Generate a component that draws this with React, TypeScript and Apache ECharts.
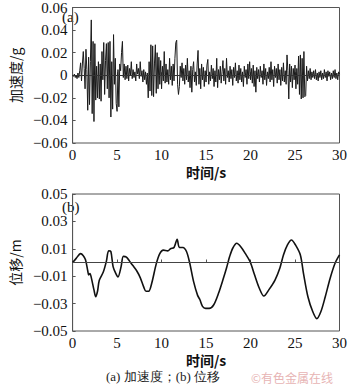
import React, { useEffect, useRef } from "react";
import * as echarts from "echarts";

// Acceleration record (g), sampled every 0.1 s from 0 to 30 s
const ACC_DT = 0.1;
const accValues: number[] = [
  0.000, -0.001, 0.001, -0.002, 0.000, -0.003, 0.002, -0.002, 0.004, 0.011,
  -0.005, 0.010, 0.021, 0.006, -0.012, 0.023, 0.005, -0.031, 0.016, -0.026,
  0.012, 0.049, -0.034, 0.030, -0.041, 0.028, -0.022, 0.008, -0.020, 0.012,
  -0.021, 0.010, -0.023, 0.021, -0.004, 0.029, -0.017, 0.013, 0.028, -0.012,
  0.029, -0.020, 0.030, -0.037, 0.012, -0.030, 0.036, -0.008, 0.015, -0.025,
  -0.032, 0.005, -0.028, 0.010, 0.004, 0.020, 0.030, -0.002, 0.010, -0.004,
  0.008, -0.003, 0.009, -0.005, 0.006, 0.000, 0.012, -0.003, 0.005, -0.002,
  0.003, -0.005, 0.010, 0.001, 0.006, -0.003, 0.012, -0.001, 0.004, -0.006,
  0.005, -0.004, 0.003, -0.008, 0.002, -0.020, 0.012, -0.014, 0.027, -0.018,
  0.026, -0.019, 0.010, 0.027, -0.016, 0.020, -0.012, 0.016, -0.008, 0.013,
  -0.012, 0.008, -0.005, 0.021, -0.007, 0.010, -0.006, 0.005, -0.008, 0.015,
  -0.004, 0.008, -0.009, 0.010, -0.005, 0.015, 0.029, 0.031, -0.008, -0.017,
  -0.010, 0.008, -0.002, 0.011, -0.005, 0.006, -0.008, 0.009, -0.004, 0.015,
  -0.006, 0.004, -0.011, 0.008, -0.015, 0.005, 0.012, -0.006, 0.003, -0.009,
  0.010, 0.022, -0.008, 0.006, -0.012, 0.010, -0.004, 0.007, -0.010, 0.004,
  -0.006, 0.009, 0.014, -0.008, 0.003, -0.005, 0.009, -0.003, 0.006, -0.010,
  0.004, -0.006, 0.015, -0.011, 0.005, -0.004, 0.008, -0.007, 0.003, 0.013,
  -0.005, 0.006, -0.008, 0.015, -0.002, 0.004, -0.006, 0.008, -0.003, 0.005,
  -0.009, 0.007, -0.002, 0.011, -0.005, 0.004, -0.007, 0.009, -0.004, 0.006,
  -0.006, 0.003, -0.010, 0.008, -0.002, 0.005, -0.008, 0.010, -0.003, 0.012,
  -0.004, 0.006, -0.007, 0.009, -0.010, 0.004, -0.015, 0.007, -0.003, 0.005,
  -0.006, 0.008, -0.002, 0.004, -0.008, 0.010, -0.004, 0.006, -0.009, 0.003,
  -0.003, 0.007, -0.006, 0.012, -0.004, 0.005, -0.010, 0.008, -0.002, 0.006,
  -0.007, 0.010, -0.004, 0.005, -0.009, 0.007, -0.005, 0.011, -0.006, 0.004,
  -0.008, 0.018, 0.004, -0.021, 0.010, -0.006, 0.008, -0.011, 0.006, -0.004,
  0.009, -0.012, 0.006, -0.008, 0.017, -0.017, 0.018, -0.021, 0.015, -0.020,
  0.021, -0.019, -0.018, 0.008, -0.005, 0.004, -0.003, 0.006, -0.004, 0.003,
  -0.002, 0.004, -0.003, 0.005, -0.004, 0.002, -0.005, 0.003, -0.002, 0.004,
  -0.004, 0.002, -0.003, 0.005, -0.002, 0.003, -0.005, 0.004, -0.001, 0.003,
  -0.004, 0.002, -0.003, 0.004, -0.002, 0.005, -0.003, 0.002, -0.004, 0.003,
  0.001,
];

// Displacement (m)
const dispTimes: number[] = [
  0, 0.4, 0.9, 1.2, 1.45, 1.7, 1.8, 1.95, 2.1, 2.4, 2.6, 2.8, 3.0, 3.45, 3.8,
  4.05, 4.3, 4.55, 4.85, 5.1, 5.45, 5.7, 6.05, 6.4, 6.75, 7.2, 7.6, 8.0, 8.25,
  8.55, 8.9, 9.4, 9.8, 10.2, 10.7, 11.0, 11.4, 11.75, 12.0, 12.4, 12.8, 13.15,
  13.6, 14.05, 14.3, 14.6, 14.95, 15.35, 15.85, 16.4, 16.95, 17.3, 17.65, 18.0,
  18.45, 18.9, 19.4, 19.95, 20.45, 21.0, 21.5, 22.05, 22.75, 23.3, 23.7, 24.15,
  24.6, 25.05, 25.6, 25.95, 26.45, 27.0, 27.45, 27.9, 28.4, 28.95, 29.5, 30,
];
const dispValues: number[] = [
  0, 0.003, 0.0065, 0.005, 0.002, -0.006, -0.009, -0.008, -0.011, -0.02, -0.025,
  -0.021, -0.013, -0.007, 0.001, 0.0085, 0.008, -0.003, -0.008, -0.0105, -0.003,
  0.0045, 0.004, 0.001, -0.002, -0.006, -0.011, -0.018, -0.021, -0.021, -0.015,
  -0.001, 0.0065, 0.009, 0.0085, 0.01, 0.011, 0.017, 0.011, 0.011, 0.008, 0.0,
  -0.014, -0.024, -0.027, -0.032, -0.0335, -0.0335, -0.031, -0.0225, -0.0115,
  -0.004, 0.0043, 0.0104, 0.014, 0.0115, 0.0067, 0.0006, -0.009, -0.019,
  -0.0245, -0.02, -0.0128, -0.004, 0.0055, 0.0128, 0.0164, 0.0128, 0.0055,
  -0.0079, -0.025, -0.036, -0.041, -0.036, -0.025, -0.0115, -0.0006, 0.0055,
];

const xTicks = [0, 5, 10, 15, 20, 25, 30];
const accTicks = [-0.06, -0.04, -0.02, 0, 0.02, 0.04, 0.06];
const dispTicks = [-0.05, -0.03, -0.01, 0.01, 0.03, 0.05];

const SERIF = "Liberation Serif, Times New Roman, DejaVu Serif, serif";
const CJK = "Noto Sans CJK SC, sans-serif";

const fmt = (v: number) => {
  if (Math.abs(v) < 1e-9) return "0";
  return (v < 0 ? "\u2212" : "") + Math.abs(v).toFixed(2);
};

export default function App() {
  const ref = useRef<HTMLDivElement>(null);
  useEffect(() => {
    if (!ref.current) return;
    const chart = echarts.init(ref.current, undefined, { renderer: "svg" });
    const accData = accValues.map((v, i) => [Math.round(i * ACC_DT * 10) / 10, v]);
    const dispData = dispTimes.map((t, i) => [t, dispValues[i]]);
    const axisColor = "#555";
    const xAxisCommon = (gridIndex: number, nameGap: number) => ({
      type: "value" as const,
      gridIndex,
      min: 0,
      max: 30,
      interval: 5,
      name: "时间/s",
      nameLocation: "middle" as const,
      nameGap,
      nameTextStyle: { fontFamily: CJK, fontSize: 14, fontWeight: "bold", color: "#111", lineHeight: 14 },
      axisLine: { show: true, lineStyle: { color: axisColor, width: 1 } },
      axisTick: { show: true, inside: true, length: 3, lineStyle: { color: axisColor } },
      axisLabel: {
        fontFamily: SERIF,
        fontSize: 15,
        color: "#111",
        margin: 4,
        lineHeight: 15,
        customValues: xTicks,
        formatter: (v: number) => String(v),
      },
      splitLine: { show: false },
    });
    chart.setOption({
      animation: false,
      backgroundColor: "#fff",
      grid: [
        { left: 58, right: 8, top: 5, height: 138, show: true, borderColor: axisColor, borderWidth: 1 },
        { left: 58, right: 8, top: 194, height: 137, show: true, borderColor: axisColor, borderWidth: 1 },
      ],
      xAxis: [xAxisCommon(0, 22), xAxisCommon(1, 22)],
      yAxis: [
        {
          type: "value",
          gridIndex: 0,
          min: -0.06,
          max: 0.06,
          interval: 0.02,
          name: "加速度/g",
          nameLocation: "middle",
          nameRotate: 90,
          nameGap: 44,
          nameTextStyle: { fontFamily: CJK, fontSize: 14, color: "#111" },
          axisLine: { show: true, lineStyle: { color: axisColor } },
          axisTick: { show: true, inside: true, length: 3, lineStyle: { color: axisColor }, customValues: accTicks },
          axisLabel: { fontFamily: SERIF, fontSize: 15, color: "#111", margin: 5, customValues: accTicks, formatter: fmt },
          splitLine: { show: false },
        },
        {
          type: "value",
          gridIndex: 1,
          min: -0.05,
          max: 0.05,
          name: "位移/m",
          nameLocation: "middle",
          nameRotate: 90,
          nameGap: 44,
          nameTextStyle: { fontFamily: CJK, fontSize: 14, color: "#111" },
          axisLine: { show: true, lineStyle: { color: axisColor } },
          axisTick: { show: true, inside: true, length: 3, lineStyle: { color: axisColor }, customValues: dispTicks },
          axisLabel: { fontFamily: SERIF, fontSize: 15, color: "#111", margin: 5, customValues: dispTicks, formatter: fmt },
          splitLine: { show: false },
        },
      ],
      series: [
        {
          type: "line",
          xAxisIndex: 0,
          yAxisIndex: 0,
          data: accData,
          showSymbol: false,
          lineStyle: { color: "#1a1a1a", width: 1 },
          markLine: {
            silent: true,
            symbol: "none",
            label: { show: false },
            lineStyle: { color: "#333", width: 1, type: "solid" },
            data: [{ yAxis: 0 }],
          },
        },
        {
          type: "line",
          xAxisIndex: 1,
          yAxisIndex: 1,
          data: dispData,
          showSymbol: false,
          smooth: 0.3,
          lineStyle: { color: "#111", width: 1.6 },
          markLine: {
            silent: true,
            symbol: "none",
            label: { show: false },
            lineStyle: { color: "#444", width: 1, type: "solid" },
            data: [{ yAxis: 0 }],
          },
        },
      ],
      graphic: [
        { type: "text", left: 62, top: 9, style: { text: "(a)", font: `15px ${SERIF}`, fill: "#111" } },
        { type: "text", left: 62, top: 199, style: { text: "(b)", font: `15px ${SERIF}`, fill: "#111" } },
        {
          type: "text",
          left: 106,
          top: 370,
          style: { text: "(a) 加速度；(b) 位移", font: `13px ${SERIF}`, fill: "#222" },
        },
        {
          type: "text",
          left: 251,
          top: 371,
          style: { text: "©有色金属在线", font: `12px ${CJK}`, fill: "#e7b4b4" },
        },
      ],
    });
    return () => chart.dispose();
  }, []);
  return <div ref={ref} style={{ width: 350, height: 390, position: "absolute", left: 0, top: 0 }} />;
}
